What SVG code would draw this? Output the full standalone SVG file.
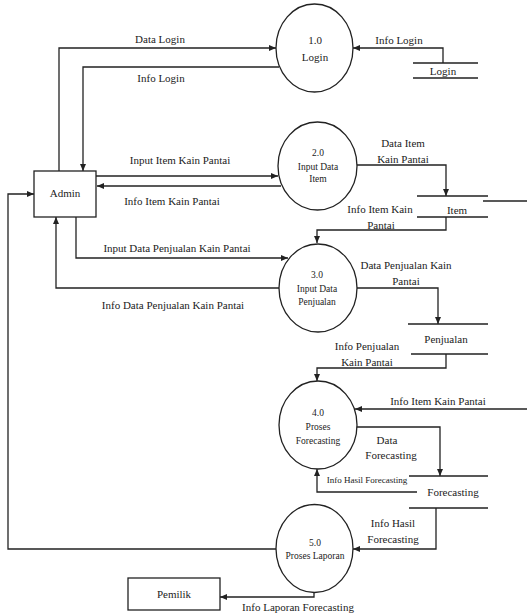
<svg xmlns="http://www.w3.org/2000/svg" width="527" height="615" viewBox="0 0 527 615" font-family="'Liberation Serif', 'Times New Roman', serif">
<style>
.ln{fill:none;stroke:#222;stroke-width:1.3}
.sh{fill:#fff;stroke:#222;stroke-width:1.3}
.st{fill:none;stroke:#222;stroke-width:1.3}
text{font-family:'Liberation Serif','Times New Roman',Times,serif;fill:#222;text-anchor:middle}
.t{font-size:11px}
.c{font-size:9.5px}
.s{font-size:9px}
</style>
<defs>
<marker id="ah" markerWidth="8" markerHeight="8" refX="7" refY="4" orient="auto" markerUnits="userSpaceOnUse">
<path d="M0,1 L7,4 L0,7 Z" fill="#222"/>
</marker>
</defs>
<rect width="527" height="615" fill="#fff"/>
<g id="connectors">
<path class="ln" d="M59,171 V48 H276" marker-end="url(#ah)"/>
<path class="ln" d="M279,67 H83 V171" marker-end="url(#ah)"/>
<path class="ln" d="M443,63 V48 H353" marker-end="url(#ah)"/>
<path class="ln" d="M96,176 H278" marker-end="url(#ah)"/>
<path class="ln" d="M281,186 H97" marker-end="url(#ah)"/>
<path class="ln" d="M357,165 H446 V196" marker-end="url(#ah)"/>
<path class="ln" d="M446,217 V230 H317 V243" marker-end="url(#ah)"/>
<path class="ln" d="M483,201 H527"/>
<path class="ln" d="M76,217 V258 H288" marker-end="url(#ah)"/>
<path class="ln" d="M279,288 H56 V217" marker-end="url(#ah)"/>
<path class="ln" d="M357,288 H438 V324" marker-end="url(#ah)"/>
<path class="ln" d="M446,354 V368 H317 V381" marker-end="url(#ah)"/>
<path class="ln" d="M527,409 H355" marker-end="url(#ah)"/>
<path class="ln" d="M356,427 H440 V476" marker-end="url(#ah)"/>
<path class="ln" d="M417,492 H317 V469" marker-end="url(#ah)"/>
<path class="ln" d="M436,508 V549 H353" marker-end="url(#ah)"/>
<path class="ln" d="M276,549 H8 V194 H34" marker-end="url(#ah)"/>
<path class="ln" d="M314,592 V597 H220" marker-end="url(#ah)"/>
</g>
<g id="admin">
<rect class="sh" x="34" y="171" width="62" height="46"/>
<text class="t" x="65" y="197">Admin</text>
</g>
<g id="pemilik">
<rect class="sh" x="128" y="578" width="92" height="32"/>
<text class="t" x="174" y="598">Pemilik</text>
</g>
<g id="p1">
<ellipse class="sh" cx="314.5" cy="48" rx="38.5" ry="44"/>
<text class="t" x="315" y="44">1.0</text>
<text class="t" x="315" y="61">Login</text>
</g>
<g id="p2">
<ellipse class="sh" cx="317.5" cy="166" rx="39.5" ry="44"/>
<text class="c" x="318" y="156">2.0</text>
<text class="c" x="318" y="170">Input Data</text>
<text class="c" x="318" y="182">Item</text>
</g>
<g id="p3">
<ellipse class="sh" cx="318" cy="288" rx="39" ry="44"/>
<text class="c" x="317" y="278">3.0</text>
<text class="c" x="317" y="292">Input Data</text>
<text class="c" x="317" y="305">Penjualan</text>
</g>
<g id="p4">
<ellipse class="sh" cx="318" cy="425" rx="39" ry="44"/>
<text class="c" x="318" y="416">4.0</text>
<text class="c" x="318" y="430">Proses</text>
<text class="c" x="318" y="444">Forecasting</text>
</g>
<g id="p5">
<ellipse class="sh" cx="314.5" cy="548.5" rx="38.5" ry="44"/>
<text class="c" x="315" y="546">5.0</text>
<text class="c" x="315" y="559">Proses Laporan</text>
</g>
<g id="ds-login">
<path class="st" d="M413,63 H478 M413,78 H478"/>
<text class="t" x="443" y="75">Login</text>
</g>
<g id="ds-item">
<path class="st" d="M417,196 H488 M417,217 H488"/>
<text class="t" x="457" y="214">Item</text>
</g>
<g id="ds-penjualan">
<path class="st" d="M408,324 H488 M411,354 H488"/>
<text class="t" x="446" y="343">Penjualan</text>
</g>
<g id="ds-forecasting">
<path class="st" d="M409,476 H488 M409,508 H488"/>
<text class="t" x="453" y="496">Forecasting</text>
</g>
<g id="labels">
<text class="t" x="160" y="43">Data Login</text>
<text class="t" x="161" y="82">Info Login</text>
<text class="t" x="399" y="44">Info Login</text>
<text class="t" x="180" y="164">Input Item Kain Pantai</text>
<text class="t" x="172" y="205">Info Item Kain Pantai</text>
<text class="t" x="403" y="147">Data Item</text>
<text class="t" x="403" y="163">Kain Pantai</text>
<text class="t" x="380" y="213">Info Item Kain</text>
<text class="t" x="381" y="229">Pantai</text>
<text class="t" x="177" y="252">Input Data Penjualan Kain Pantai</text>
<text class="t" x="173" y="309">Info Data Penjualan Kain Pantai</text>
<text class="t" x="406" y="269">Data Penjualan Kain</text>
<text class="t" x="406" y="285">Pantai</text>
<text class="t" x="367" y="350">Info Penjualan</text>
<text class="t" x="367" y="366">Kain Pantai</text>
<text class="t" x="438" y="405">Info Item Kain Pantai</text>
<text class="t" x="387" y="444">Data</text>
<text class="t" x="391" y="459">Forecasting</text>
<text class="s" x="367" y="483">Info Hasil Forecasting</text>
<text class="t" x="393" y="527">Info Hasil</text>
<text class="t" x="393" y="543">Forecasting</text>
<text class="t" x="298" y="611">Info Laporan Forecasting</text>
</g>
</svg>
